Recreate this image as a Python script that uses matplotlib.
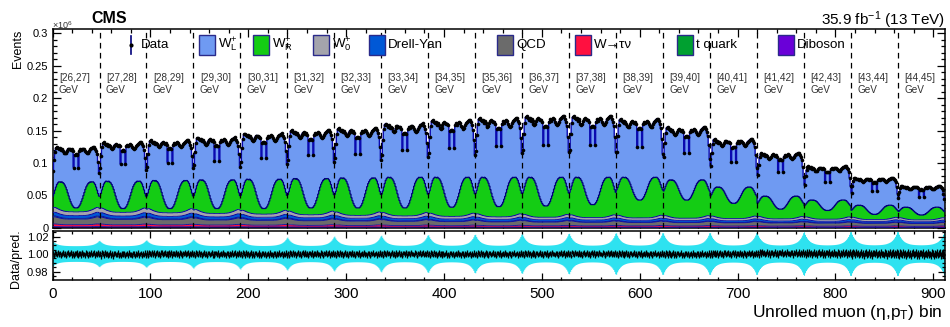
import numpy as np
import matplotlib.pyplot as plt
from matplotlib.patches import Rectangle
from matplotlib.lines import Line2D
from matplotlib.ticker import MultipleLocator, FormatStrFormatter

plt.rcParams['font.family'] = ['Liberation Sans', 'DejaVu Sans']
plt.rcParams['mathtext.fontset'] = 'custom'
plt.rcParams['mathtext.rm'] = 'Liberation Sans'
plt.rcParams['mathtext.it'] = 'Liberation Sans:italic'
plt.rcParams['mathtext.bf'] = 'Liberation Sans:bold'

# pT slices (GeV); each slice holds 48 eta bins
pt_lo = [26, 27, 28, 29, 30, 31, 32, 33, 34, 35, 36, 37, 38, 39, 40, 41, 42, 43, 44]
pt_hi = [27, 28, 29, 30, 31, 32, 33, 34, 35, 36, 37, 38, 39, 40, 41, 42, 43, 44, 45]

# per-slice levels (events x 1e6)
block_total = [0.121, 0.128, 0.131, 0.135, 0.141, 0.146, 0.149, 0.156, 0.161, 0.164,
               0.167, 0.167, 0.163, 0.151, 0.133, 0.112, 0.092, 0.075, 0.063]
wr_peak = [0.071, 0.072, 0.073, 0.074, 0.075, 0.076, 0.077, 0.078, 0.078, 0.078,
           0.078, 0.078, 0.078, 0.074, 0.063, 0.049, 0.043, 0.035, 0.032]
wr_floor = [0.031, 0.030, 0.030, 0.030, 0.030, 0.031, 0.031, 0.031, 0.032, 0.033,
            0.034, 0.036, 0.043, 0.043, 0.038, 0.029, 0.027, 0.021, 0.020]
block_low = [1.0, 0.97, 0.94, 0.9, 0.86, 0.82, 0.78, 0.75, 0.72, 0.69,
             0.66, 0.64, 0.62, 0.6, 0.58, 0.56, 0.54, 0.52, 0.5]

# shapes inside one slice (48 eta bins)
eta_total = [0.72, 0.87, 0.97, 1.02, 1.03, 1.01, 1.00, 1.01, 0.99, 1.00, 0.98, 0.96,
             0.95, 0.96, 0.98, 1.00, 1.01, 1.00, 0.99, 1.00, 0.98, 0.77, 0.93, 0.94,
             0.94, 0.93, 0.77, 0.98, 1.00, 0.99, 1.00, 1.01, 1.00, 0.98, 0.96, 0.95,
             0.96, 0.98, 1.00, 1.01, 1.02, 1.03, 1.03, 1.01, 0.98, 0.94, 0.84, 0.70]
wr_shape = [0.45, 0.55, 0.68, 0.80, 0.90, 0.96, 1.0, 1.0, 0.98, 1.0, 0.97, 0.94,
            0.88, 0.80, 0.70, 0.58, 0.46, 0.34, 0.24, 0.15, 0.08, 0.03, 0.0, 0.0,
            0.0, 0.0, 0.03, 0.08, 0.15, 0.25, 0.35, 0.47, 0.59, 0.71, 0.81, 0.88,
            0.94, 0.97, 1.0, 0.99, 1.0, 1.0, 0.96, 0.90, 0.80, 0.68, 0.55, 0.45]
eta_low = [1.20, 1.24, 1.24, 1.22, 1.19, 1.16, 1.13, 1.10, 1.08, 1.06, 1.04, 1.02,
           1.01, 1.00, 0.99, 0.99, 0.98, 0.98, 0.98, 0.98, 0.98, 0.97, 0.97, 0.97,
           0.97, 0.97, 0.97, 0.98, 0.98, 0.98, 0.98, 0.98, 0.99, 0.99, 1.00, 1.01,
           1.02, 1.04, 1.06, 1.08, 1.10, 1.13, 1.16, 1.19, 1.22, 1.24, 1.24, 1.20]

# small backgrounds (bottom of stack), level at slice scale 1
low_names = ['Diboson', 'W→ τν', 'QCD', 't quark', 'Drell-Yan', 'W0']
low_levels = [0.0018, 0.0032, 0.0088, 0.0012, 0.0045, 0.0060]
low_colors = ['#6a00d8', '#ff1040', '#6b6b6b', '#00a030', '#0058d6', '#a4a4ac']

# ratio panel
ratio_dev = [0.0012, -0.0022, 0.0017, 0.0005, -0.0012, 0.0022, -0.0005, 0.0012,
             -0.0017, 0.0000, 0.0020, -0.0012, 0.0005, -0.0022, 0.0012, 0.0014,
             -0.0009, 0.0000, 0.0018, -0.0014, 0.0004, -0.0020, 0.0010, 0.0013,
             -0.0007, 0.0016, -0.0018, 0.0002, 0.0008, -0.0013, 0.0019, -0.0004,
             0.0000, -0.0015, 0.0014, 0.0007, -0.0021, 0.0009, -0.0003, 0.0017,
             -0.0010, 0.0003, 0.0015, -0.0016, 0.0005, -0.0008, 0.0018, -0.0012]
block_offset = [0.0, -0.0003, 0.0002, 0.0, -0.0002, 0.0001, 0.0, 0.0002, -0.0001, 0.0,
                0.0001, 0.0003, 0.0, -0.0002, 0.0002, 0.0008, 0.0006, 0.0003, 0.0]
ratio_err = [0.0027, 0.0027, 0.0027, 0.0026, 0.0026, 0.0026, 0.0025, 0.0025, 0.0025, 0.0025,
             0.0025, 0.0025, 0.0025, 0.0026, 0.0027, 0.0029, 0.0032, 0.0035, 0.0038]
unc_base = [0.0090, 0.0090, 0.0091, 0.0092, 0.0092, 0.0093, 0.0094, 0.0094, 0.0095, 0.0095,
            0.0096, 0.0096, 0.0097, 0.0097, 0.0098, 0.0098, 0.0099, 0.0100, 0.0100]
unc_spike = [0.0055, 0.006, 0.0065, 0.0075, 0.0085, 0.0095, 0.0105, 0.0115, 0.012, 0.0125,
             0.013, 0.0135, 0.014, 0.014, 0.014, 0.014, 0.015, 0.015, 0.015]
eta_spike = [1.0, 0.80, 0.64, 0.52, 0.42, 0.34, 0.27, 0.22, 0.18, 0.145, 0.115, 0.09,
             0.07, 0.055, 0.042, 0.032, 0.024, 0.017, 0.012, 0.008, 0.005, 0.003, 0.001, 0.0,
             0.0, 0.001, 0.003, 0.005, 0.008, 0.012, 0.017, 0.024, 0.032, 0.042, 0.055, 0.07,
             0.09, 0.115, 0.145, 0.18, 0.22, 0.27, 0.34, 0.42, 0.52, 0.64, 0.80, 1.0]

# build the unrolled histograms
n_eta = len(eta_total)
n_bins = n_eta * len(pt_lo)
edges = np.arange(n_bins + 1)
centers = edges[:-1] + 0.5

total = np.outer(block_total, eta_total).ravel()
green_top = (np.array(wr_floor)[:, None]
             + (np.array(wr_peak) - np.array(wr_floor))[:, None] * np.array(wr_shape)[None, :]).ravel()
low_unit = np.outer(block_low, eta_low).ravel()

ratio = (1 + np.array(ratio_dev)[None, :] + np.array(block_offset)[:, None]).ravel()
rerr = np.repeat(ratio_err, n_eta)
data = total * ratio
band = (np.array(unc_base)[:, None] + np.array(unc_spike)[:, None] * np.array(eta_spike)[None, :]).ravel()

navy = '#00007a'

fig = plt.figure(figsize=(9.5, 3.27), dpi=100)
ax = fig.add_axes([0.0553, 0.3028, 0.9394, 0.6085])
ax2 = fig.add_axes([0.0553, 0.1437, 0.9394, 0.1514])

# stacked backgrounds
bottom = np.zeros(n_bins)
for lvl, col in zip(low_levels, low_colors):
    top = bottom + lvl * low_unit
    ax.stairs(top, edges, baseline=bottom, fill=True, color=col, lw=0, zorder=2)
    ax.stairs(top, edges, baseline=None, color='#1010a0', lw=0.6, zorder=3)
    bottom = top

# W_R and W_L
ax.stairs(green_top, edges, baseline=bottom, fill=True, color='#14cc14', lw=0, zorder=2)
ax.stairs(green_top, edges, baseline=None, color=navy, lw=0.9, zorder=3)
ax.stairs(total, edges, baseline=green_top, fill=True, color='#6f9af2', lw=0, zorder=2)
ax.stairs(total, edges, baseline=None, color='#0a0ab0', lw=1.0, zorder=3)

# slice boundaries and labels
for k in range(len(pt_lo)):
    if k > 0:
        ax.axvline(k * n_eta, color='k', lw=0.9, ls=(0, (4.5, 3.5)), zorder=4)
    ax.text(k * n_eta + 6.5, 0.238, f'[{pt_lo[k]},{pt_hi[k]}]\nGeV', fontsize=7.2,
            color='#333333', ha='left', va='top', linespacing=1.25)

ax.plot(centers, data, 'o', ms=2.6, color='k', mew=0, zorder=5)

ax.set_xlim(0, n_bins)
ax.set_ylim(0, 0.3062)
ax.yaxis.set_major_locator(MultipleLocator(0.05))
ax.yaxis.set_minor_locator(MultipleLocator(0.01))
ax.yaxis.set_major_formatter(FormatStrFormatter('%g'))
ax.xaxis.set_major_locator(MultipleLocator(100))
ax.xaxis.set_minor_locator(MultipleLocator(20))
ax.tick_params(which='both', direction='in', top=True, right=True, labelbottom=False,
               labelsize=8, pad=3, width=0.9)
ax.tick_params(which='major', length=6)
ax.tick_params(which='minor', length=3)
for s in ax.spines.values():
    s.set_linewidth(1.1)

# ratio panel
ax2.stairs(1 + band, edges, baseline=1 - band, fill=True, color='#2ee2f0', lw=0)
ax2.errorbar(centers, ratio, yerr=rerr, fmt='o', ms=1.6, color='k', mew=0,
             elinewidth=0.9, capsize=0)
ax2.set_xlim(0, n_bins)
ax2.set_ylim(0.9703, 1.0269)
ax2.set_yticks([0.98, 1.00, 1.02])
ax2.yaxis.set_major_formatter(FormatStrFormatter('%.2f'))
ax2.yaxis.set_minor_locator(MultipleLocator(0.005))
ax2.xaxis.set_major_locator(MultipleLocator(100))
ax2.xaxis.set_minor_locator(MultipleLocator(20))
ax2.tick_params(which='both', direction='in', top=True, right=True, width=0.9)
ax2.tick_params(axis='y', labelsize=8, pad=3)
ax2.tick_params(axis='x', labelsize=11, pad=5)
ax2.tick_params(which='major', length=5)
ax2.tick_params(which='minor', length=2.5)
for s in ax2.spines.values():
    s.set_linewidth(1.1)


def fx(px):
    return px / 950.0


def fy(py):
    return 1 - py / 327.0


# titles and axis labels
fig.text(fx(91), fy(18.5), 'CMS', fontsize=11.5, fontweight='bold', va='center', ha='left')
fig.text(fx(945), fy(20), r'35.9 fb$^{-1}$ (13 TeV)', fontsize=11, va='center', ha='right')
fig.text(fx(52), fy(25), r'×10$^{6}$', fontsize=6.5, va='center', ha='left', color='#333333')
fig.text(fx(18), fy(30), 'Events', fontsize=9, rotation=90, ha='center', va='top')
fig.text(fx(16), fy(259), 'Data/pred.', fontsize=9, rotation=90, ha='center', va='center')
fig.text(fx(943), fy(313), r'Unrolled muon (η,p$_{\mathrm{T}}$) bin', fontsize=12.5,
         ha='right', va='center')

# legend drawn in figure pixels
leg_y = 45
fig.add_artist(Line2D([fx(131), fx(131)], [fy(36), fy(54)], color=navy, lw=1.2,
                      transform=fig.transFigure))
fig.add_artist(Line2D([fx(131)], [fy(leg_y)], marker='o', ms=3, color='k', mew=0,
                      transform=fig.transFigure))
fig.text(fx(141), fy(leg_y), 'Data', fontsize=9.6, va='center', ha='left')

legend_items = [
    (199, r'W$_{\mathrm{L}}^{+}$', '#6f9af2'),
    (253, r'W$_{\mathrm{R}}^{+}$', '#14cc14'),
    (313, r'W$_{\mathrm{0}}^{+}$', '#a4a4ac'),
    (369, 'Drell-Yan', '#0058d6'),
    (497, 'QCD', '#6b6b6b'),
    (575, 'W→τν', '#ff1040'),
    (677, 't quark', '#00a030'),
    (778, 'Diboson', '#6a00d8'),
]
for x0, lab, col in legend_items:
    fig.add_artist(Rectangle((fx(x0), fy(leg_y + 9.5)), 16 / 950.0, 19 / 327.0,
                             facecolor=col, edgecolor='#2a2a8a', lw=1.0,
                             transform=fig.transFigure))
    fig.text(fx(x0 + 19), fy(leg_y), lab, fontsize=9.6, va='center', ha='left')

fig.savefig('out.png', dpi=100)
